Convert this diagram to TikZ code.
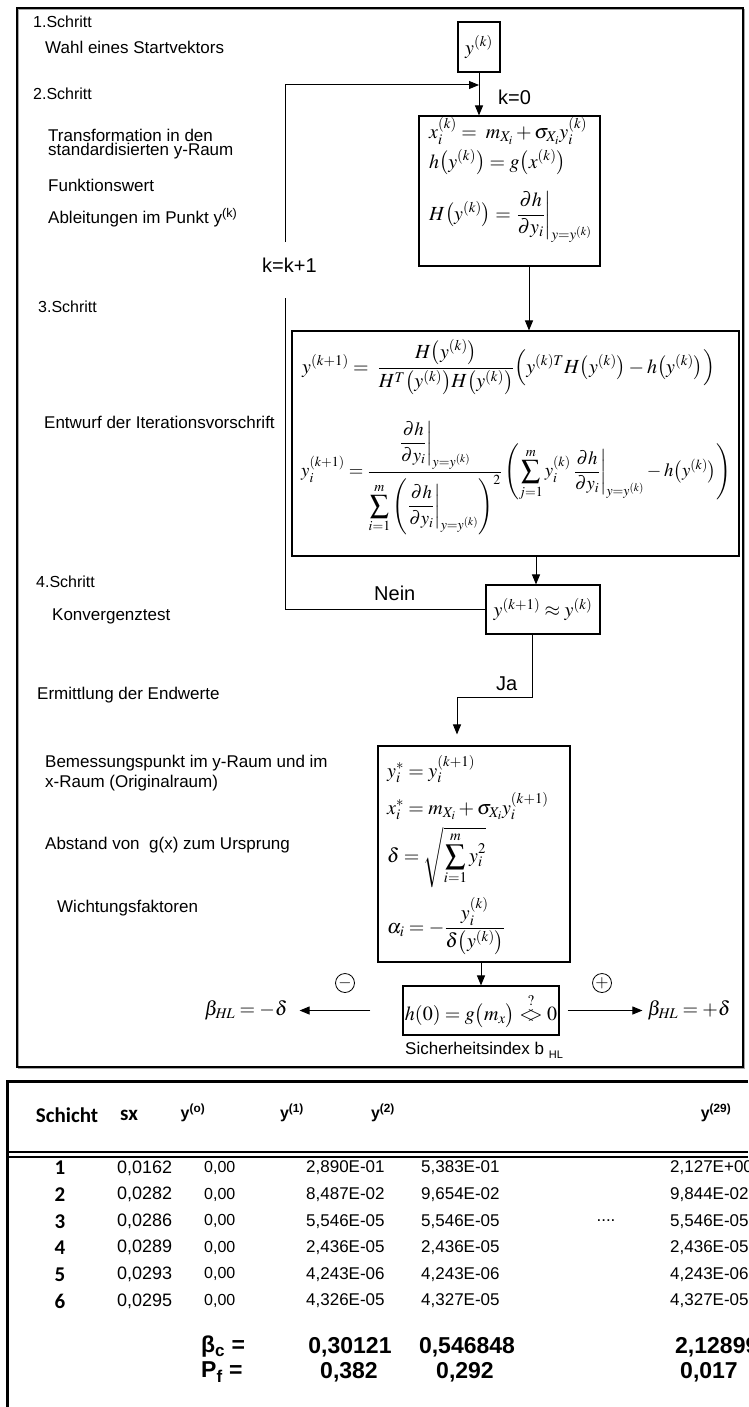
\documentclass[tikz,border=0pt]{standalone}
\usepackage{amsmath}
\usepackage{mathptmx}
\usepackage[no-math]{fontspec}
\setmainfont{Liberation Sans}
\newfontfamily\carlito{Carlito}
\usetikzlibrary{arrows.meta}
\begin{document}
\begin{tikzpicture}[x=1pt,y=-1pt,
  lbl/.style={anchor=west, inner sep=0pt, font=\fontsize{17}{17}\selectfont},
  stp/.style={anchor=west, inner sep=0pt, font=\fontsize{16}{16}\selectfont},
  big/.style={anchor=west, inner sep=0pt, font=\fontsize{20}{20}\selectfont},
  box/.style={draw, line width=1.1pt, inner sep=0pt},
  fm/.style={anchor=base west, inner sep=0pt, font=\fontsize{20}{24}\selectfont},
  arr/.style={-{Triangle[length=10pt,width=8pt]}, line width=1pt},
  ln/.style={line width=1pt},
  sgn/.style={draw, circle, line width=0.8pt, minimum size=19pt, inner sep=0pt, font=\fontsize{17}{17}\selectfont},
  hd/.style={inner sep=0pt, font=\carlito\bfseries\fontsize{21}{21}\selectfont},
  hy/.style={inner sep=0pt, font=\bfseries\fontsize{16}{16}\selectfont},
  num/.style={inner sep=0pt, font=\carlito\bfseries\fontsize{21}{21}\selectfont},
  sxv/.style={anchor=west, inner sep=0pt, font=\fontsize{18}{18}\selectfont},
  yv/.style={anchor=west, inner sep=0pt, font=\fontsize{17}{17}\selectfont},
  res/.style={inner sep=0pt, font=\bfseries\fontsize{23}{23}\selectfont},
]
\useasboundingbox (0,0) rectangle (748,1407);
\fill[white] (0,0) rectangle (748,1407);

% outer frame
\draw[black!35, line width=1.2pt] (18.5,9.5) rectangle (744.5,1068.5);
\draw[line width=1.1pt] (17,8) rectangle (743,1067);

% left labels
\node[stp] (s1) at (33,22) {1.Schritt};
\node[lbl] (l1) at (45,47) {Wahl eines Startvektors};
\node[stp] (s2) at (33,94) {2.Schritt};
\node[lbl] (l2a) at (48,135) {Transformation in den};
\node[lbl] (l2b) at (48,151) {standardisierten y-Raum};
\node[lbl] (l2c) at (48,185) {Funktionswert};
\node[lbl] (l2d) at (48,218) {Ableitungen im Punkt y\textsuperscript{(k)}};
\node[stp] (s3) at (38,307) {3.Schritt};
\node[lbl] (l3) at (44,422) {Entwurf der Iterationsvorschrift};
\node[stp] (s4) at (36,582) {4.Schritt};
\node[lbl] (l4) at (52,616) {Konvergenztest};
\node[lbl] (l5) at (37,695) {Ermittlung der Endwerte};
\node[lbl] (l5a) at (45,763) {Bemessungspunkt im y-Raum und im};
\node[lbl] (l5b) at (45,783) {x-Raum (Originalraum)};
\node[lbl] (l5c) at (45,845) {Abstand von\ \ g(x) zum Ursprung};
\node[lbl] (l5d) at (57,908) {Wichtungsfaktoren};

% boxes
\node[box, minimum width=42pt, minimum height=50pt] (b1) at (479,47) {};
\node[box, minimum width=181pt, minimum height=150pt] (b2) at (509.5,191) {};
\node[box, minimum width=447pt, minimum height=225pt] (b3) at (515.5,443.5) {};
\node[box, minimum width=114pt, minimum height=49pt] (b4) at (543,609.5) {};
\node[box, minimum width=192pt, minimum height=216pt] (b5) at (474,854) {};
\node[box, minimum width=156pt, minimum height=49pt] (b6) at (481,1010.5) {};

% formulas
\node[fm, anchor=center] (f1) at (b1.center) {$y^{(k)}$};
\node[fm] (f2a) at (429,139) {$x_i^{(k)} =\; m_{X_i} + \sigma_{X_i} y_i^{(k)}$};
\node[fm] (f2b) at (429,168) {$h\bigl(y^{(k)}\bigr) = g\bigl(x^{(k)}\bigr)$};
\node[fm] (f2c) at (429,220) {$H\bigl(y^{(k)}\bigr) = \left.\dfrac{\partial h}{\partial y_i}\right|_{y=y^{(k)}}$};
\node[fm] (f3a) at (302,373) {$y^{(k+1)} =\; \dfrac{H\bigl(y^{(k)}\bigr)}{H^{T}\bigl(y^{(k)}\bigr)H\bigl(y^{(k)}\bigr)}\Bigl(y^{(k)T} H\bigl(y^{(k)}\bigr) - h\bigl(y^{(k)}\bigr)\Bigr)$};
\node[fm, anchor=west] (f3b) at (301,478) {\resizebox{430pt}{!}{$\displaystyle y_i^{(k+1)} = \frac{\left.\dfrac{\partial h}{\partial y_i}\right|_{y=y^{(k)}}}{\displaystyle\sum_{i=1}^{m}\left(\left.\dfrac{\partial h}{\partial y_i}\right|_{y=y^{(k)}}\right)^{2}}\left(\sum_{j=1}^{m} y_i^{(k)}\left.\frac{\partial h}{\partial y_i}\right|_{y=y^{(k)}} - h\bigl(y^{(k)}\bigr)\right)$}};
\node[fm, anchor=center] (f4) at (b4.center) {$y^{(k+1)} \approx y^{(k)}$};
\node[fm] (f5a) at (387,777) {$y_i^{*} = y_i^{(k+1)}$};
\node[fm] (f5b) at (387,814) {$x_i^{*} = m_{X_i} + \sigma_{X_i} y_i^{(k+1)}$};
\node[fm] (f5c) at (387,862) {$\delta = \sqrt{\displaystyle\sum_{i=1}^{m} y_i^{2}}$};
\node[fm] (f5d) at (387,933) {$\alpha_i = -\dfrac{y_i^{(k)}}{\delta\bigl(y^{(k)}\bigr)}$};
\node[fm, anchor=center] (f6) at (b6.center) {$h(0) = g\bigl(m_x\bigr) \mathrel{\overset{?}{<\mkern-7mu>}} 0$};

% results of sign test
\node[fm, anchor=center] (bm) at (246,1010.5) {$\beta_{\mathit{HL}} = -\delta$};
\node[fm, anchor=center] (bp) at (689,1010.5) {$\beta_{\mathit{HL}} = +\delta$};
\node[sgn] (cm) at (345,983) {$-$};
\node[sgn] (cp) at (602,983) {$+$};
\node[anchor=west, inner sep=0pt, font=\fontsize{17}{17}\selectfont] (si) at (405,1050) {Sicherheitsindex b {\fontsize{11}{11}\selectfont\raisebox{-4pt}{HL}}};

% connector labels
\node[big] (k0) at (498,97) {k=0};
\node[big] (kk) at (262,265) {k=k+1};
\node[big] (nein) at (374,593) {Nein};
\node[big] (ja) at (496,684) {Ja};

% connectors
\draw[arr] (b1.south) -- (b1.south |- b2.north);
\coordinate (a23) at ([xshift=19.5pt]b2.south);
\draw[arr] (a23) -- (a23 |- b3.north);
\coordinate (a34) at ([xshift=-7pt]b4.north);
\draw[arr] (a34 |- b3.south) -- (a34);
% feedback loop
\coordinate (gapB) at (285,298);
\coordinate (gapT) at (285,242);
\coordinate (fb) at (285,85);
\draw[ln] (b4.west) -| (gapB);
\draw[arr] (gapT) -- (fb) -- (fb -| b1.south);
% Ja branch
\coordinate (a45) at ([xshift=-11pt]b4.south);
\coordinate (a5) at ([xshift=-17pt]b5.north);
\coordinate (jturn) at (457,697);
\draw[arr, shorten >=11pt] (a45) |- (jturn) -- (a5);
\draw[arr] (b6.north |- b5.south) -- (b6.north);
\draw[arr, shorten <=32pt, shorten >=12pt] (b6.west) -- (bm.east);
\draw[arr, shorten <=8pt, shorten >=5pt] (b6.east) -- (bp.west);

% table
\draw[line width=3pt] (7.5,1407) -- (7.5,1081) -- (748,1081);
\draw[line width=1.6pt] (7.5,1152) -- (748,1152);
\draw[line width=2.2pt] (7.5,1157) -- (748,1157);
\node[hd] (hS) at (67,1115) {Schicht};
\node[hd] (hsx) at (129,1115) {sx};
\node[hy] (h0) at (193,1113) {y\textsuperscript{(o)}};
\node[hy] (h1) at (292,1113) {y\textsuperscript{(1)}};
\node[hy] (h2) at (383,1113) {y\textsuperscript{(2)}};
\node[hy] (h29) at (716,1113) {y\textsuperscript{(29)}};
\foreach \n/\sx/\ya/\yb/\yz [count=\k from 0] in {
 1/{0,0162}/{2,890E-01}/{5,383E-01}/{2,127E+00},
 2/{0,0282}/{8,487E-02}/{9,654E-02}/{9,844E-02},
 3/{0,0286}/{5,546E-05}/{5,546E-05}/{5,546E-05},
 4/{0,0289}/{2,436E-05}/{2,436E-05}/{2,436E-05},
 5/{0,0293}/{4,243E-06}/{4,243E-06}/{4,243E-06},
 6/{0,0295}/{4,326E-05}/{4,327E-05}/{4,327E-05}}
{
 \pgfmathsetmacro\yy{1168+26.6*\k}
 \node[num] (n\n) at (60,\yy) {\n};
 \node[sxv] (s\n) at (117,\yy) {\sx};
 \node[yv, font=\fontsize{16}{16}\selectfont] (z\n) at (204,\yy) {0,00};
 \node[yv] (a\n) at (306,\yy) {\ya};
 \node[yv] (b\n) at (421,\yy) {\yb};
 \node[yv] (c\n) at (670,\yy) {\yz};
}
\node[yv, anchor=center] (dots) at (606,1221) {....};
\node[res, anchor=west] (bc) at (201,1347) {β\textsubscript{c} =};
\node[res] (bc1) at (350,1347) {0,30121};
\node[res] (bc2) at (467,1347) {0,546848};
\node[res, anchor=west] (bc29) at (675,1347) {2,12899};
\node[res, anchor=west] (pf) at (201,1372) {P\textsubscript{f} =};
\node[res] (pf1) at (349,1372) {0,382};
\node[res] (pf2) at (465,1372) {0,292};
\node[res] (pf29) at (709,1372) {0,017};
\end{tikzpicture}
\end{document}
